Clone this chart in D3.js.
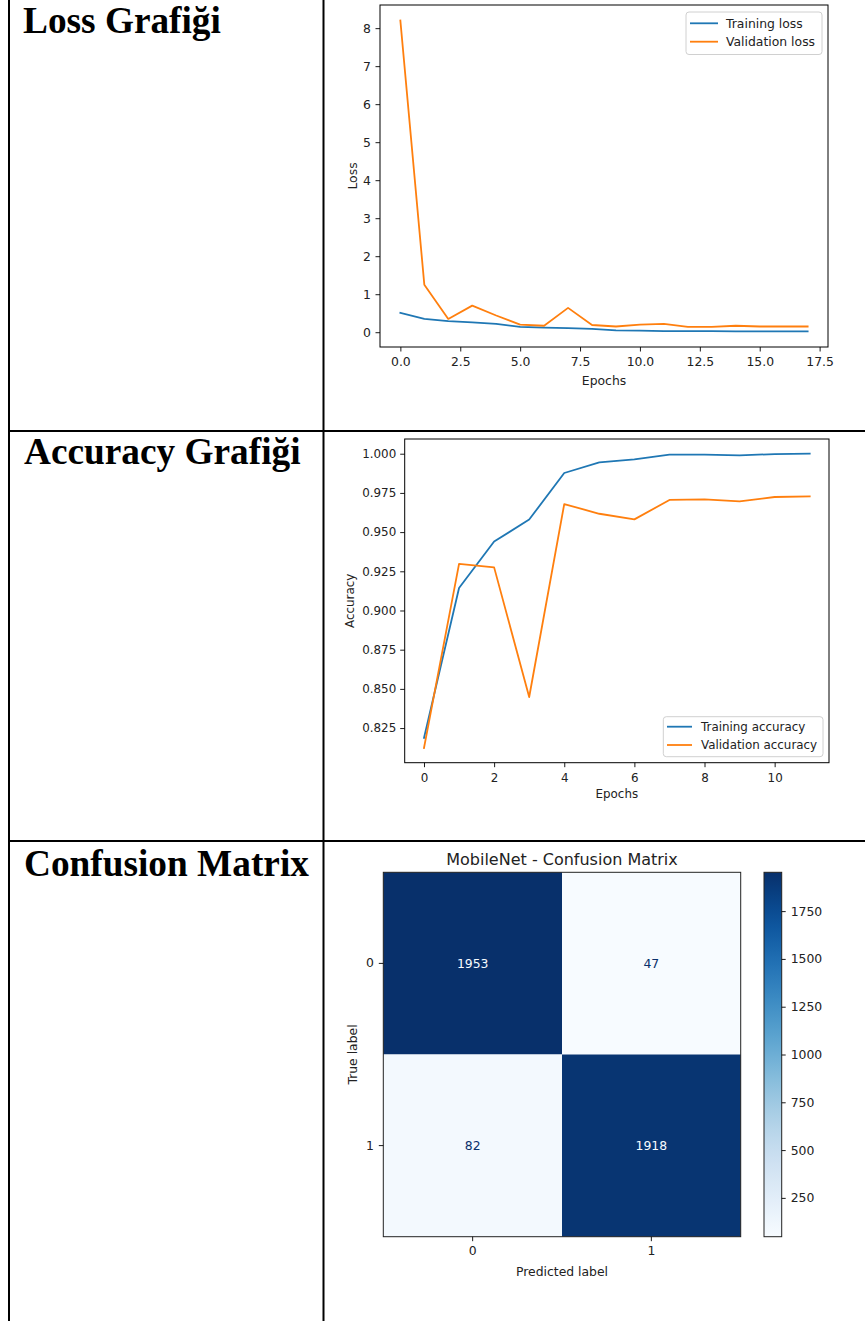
<!DOCTYPE html>
<html>
<head>
<meta charset="utf-8">
<script src="https://cdn.jsdelivr.net/npm/d3@7"></script>
<style>
  html, body { margin: 0; padding: 0; background: #fff; }
  svg { display: block; }
  .mpl text { font-family: "DejaVu Sans", sans-serif; fill: #222; }
  .rowlabel { font-family: "Liberation Serif", "Times New Roman", serif; font-weight: bold; font-size: 37.3px; fill: #000; }
</style>
</head>
<body>
<script>
// ---------- data ----------
const rowLabels = ["Loss Grafiği", "Accuracy Grafiği", "Confusion Matrix"];

const lossEpochs = d3.range(0, 18);
const trainingLoss = [0.51, 0.35, 0.29, 0.26, 0.22, 0.14, 0.12, 0.11, 0.09, 0.05, 0.04, 0.03, 0.03, 0.03, 0.02, 0.02, 0.02, 0.02];
const validationLoss = [8.20, 1.25, 0.35, 0.70, 0.44, 0.20, 0.17, 0.64, 0.19, 0.15, 0.20, 0.22, 0.14, 0.14, 0.17, 0.15, 0.15, 0.15];
const lossXTicks = [0, 2.5, 5, 7.5, 10, 12.5, 15, 17.5];
const lossYTicks = [0, 1, 2, 3, 4, 5, 6, 7, 8];

const accEpochs = d3.range(0, 12);
const trainingAcc = [0.8187, 0.9143, 0.9440, 0.9580, 0.9877, 0.9945, 0.9964, 0.9994, 0.9994, 0.9989, 0.9998, 1.0000];
const validationAcc = [0.8123, 0.9297, 0.9275, 0.8448, 0.9679, 0.9617, 0.9581, 0.9705, 0.9709, 0.9696, 0.9724, 0.9728];
const accXTicks = [0, 2, 4, 6, 8, 10];
const accYTicks = [0.825, 0.850, 0.875, 0.900, 0.925, 0.950, 0.975, 1.000];

const cmLabels = [0, 1];
const cmValues = [[1953, 47], [82, 1918]];
const cbTicks = [250, 500, 750, 1000, 1250, 1500, 1750];

const blue = "#1f77b4", orange = "#ff7f0e";

// ---------- page ----------
const W = 865, H = 1321;
const svg = d3.select("body").append("svg").attr("width", W).attr("height", H);
svg.append("rect").attr("width", W).attr("height", H).attr("fill", "#fff");

// table grid
const grid = svg.append("g").attr("stroke", "#000").attr("stroke-width", 2);
grid.append("line").attr("x1", 9).attr("x2", 9).attr("y1", 0).attr("y2", H);
grid.append("line").attr("x1", 323.5).attr("x2", 323.5).attr("y1", 0).attr("y2", H);
grid.append("line").attr("x1", 9).attr("x2", W).attr("y1", 431).attr("y2", 431);
grid.append("line").attr("x1", 9).attr("x2", W).attr("y1", 841).attr("y2", 841);

const labelPos = [[23, 33], [24, 464], [24, 876]];
rowLabels.forEach((t, i) => {
  svg.append("text").attr("class", "rowlabel").attr("x", labelPos[i][0]).attr("y", labelPos[i][1]).text(t);
});

function padDomain(vals) {
  const [mn, mx] = d3.extent(vals);
  const r = mx - mn;
  return [mn - 0.05 * r, mx + 0.05 * r];
}

function lineChart(opts) {
  const g = svg.append("g").attr("class", "mpl");
  const x = d3.scaleLinear().domain(padDomain(opts.xs)).range([opts.left, opts.right]);
  const y = d3.scaleLinear().domain(padDomain(opts.series[0].v.concat(opts.series[1].v))).range([opts.bottom, opts.top]);

  const xa = g.append("g").attr("transform", `translate(0,${opts.bottom})`)
    .call(d3.axisBottom(x).tickValues(opts.xTicks).tickFormat(opts.xFmt).tickSize(4.5).tickPadding(6));
  const ya = g.append("g").attr("transform", `translate(${opts.left},0)`)
    .call(d3.axisLeft(y).tickValues(opts.yTicks).tickFormat(opts.yFmt).tickSize(4.5).tickPadding(opts.yPad));
  [xa, ya].forEach(a => {
    a.select(".domain").remove();
    a.selectAll("line").attr("stroke", "#000").attr("stroke-width", 0.9);
    a.selectAll("text").attr("font-size", opts.fs + "px").attr("fill", "#222").attr("font-family", "DejaVu Sans");
  });

  const line = d3.line().x((d, i) => x(opts.xs[i])).y(d => y(d));
  opts.series.forEach(s => {
    g.append("path").datum(s.v).attr("d", line).attr("fill", "none")
      .attr("stroke", s.c).attr("stroke-width", 1.8).attr("stroke-linejoin", "round").attr("stroke-linecap", "square");
  });

  g.append("rect").attr("x", opts.left).attr("y", opts.top)
    .attr("width", opts.right - opts.left).attr("height", opts.bottom - opts.top)
    .attr("fill", "none").attr("stroke", "#000").attr("stroke-width", 1);

  g.append("text").attr("x", (opts.left + opts.right) / 2).attr("y", opts.xlabY)
    .attr("text-anchor", "middle").attr("font-size", opts.fs + "px").text("Epochs");
  g.append("text").attr("transform", `translate(${opts.ylabX},${(opts.top + opts.bottom) / 2}) rotate(-90)`)
    .attr("text-anchor", "middle").attr("dominant-baseline", "central").attr("font-size", opts.fs + "px").text(opts.ylab);

  // legend
  const L = opts.legend;
  g.append("rect").attr("x", L.x0).attr("y", L.y0).attr("width", L.x1 - L.x0).attr("height", L.y1 - L.y0)
    .attr("rx", 3).attr("fill", "#fff").attr("fill-opacity", 0.85).attr("stroke", "#d0d0d0").attr("stroke-width", 1);
  opts.series.forEach((s, i) => {
    const yy = L.rows[i];
    g.append("line").attr("x1", L.lx0).attr("x2", L.lx1).attr("y1", yy).attr("y2", yy)
      .attr("stroke", s.c).attr("stroke-width", 1.8);
    g.append("text").attr("x", L.tx).attr("y", yy).attr("dominant-baseline", "central")
      .attr("font-size", opts.fs + "px").text(s.name);
  });
}

lineChart({
  xs: lossEpochs,
  series: [{ v: trainingLoss, c: blue, name: "Training loss" }, { v: validationLoss, c: orange, name: "Validation loss" }],
  left: 380, right: 828, top: 5, bottom: 347,
  xTicks: lossXTicks, xFmt: d3.format(".1f"),
  yTicks: lossYTicks, yFmt: d3.format("d"), yPad: 4.5,
  fs: 12.4, xlabY: 384.5, ylab: "Loss", ylabX: 352,
  legend: { x0: 686, x1: 822, y0: 12, y1: 54.5, rows: [23.3, 41.7], lx0: 690, lx1: 718, tx: 726 }
});

lineChart({
  xs: accEpochs,
  series: [{ v: trainingAcc, c: blue, name: "Training accuracy" }, { v: validationAcc, c: orange, name: "Validation accuracy" }],
  left: 404.7, right: 829, top: 439, bottom: 762.7,
  xTicks: accXTicks, xFmt: d3.format("d"),
  yTicks: accYTicks, yFmt: d3.format(".3f"), yPad: 4,
  fs: 11.9, xlabY: 798, ylab: "Accuracy", ylabX: 350,
  legend: { x0: 663.3, x1: 823, y0: 716.7, y1: 756.7, rows: [726.7, 745], lx0: 667, lx1: 692, tx: 701 }
});

// ---------- confusion matrix ----------
const cm = svg.append("g").attr("class", "mpl");
const cmL = 383.3, cmR = 740.7, cmT = 872.3, cmB = 1236.7;
const xb = d3.scaleBand().domain(cmLabels).range([cmL, cmR]);
const yb = d3.scaleBand().domain(cmLabels).range([cmT, cmB]);
const flat = cmValues.flat();
const cExt = d3.extent(flat);
const color = d3.scaleSequential(d3.interpolateBlues).domain(cExt);
const thresh = (cExt[0] + cExt[1]) / 2;

cmValues.forEach((row, i) => row.forEach((v, j) => {
  cm.append("rect").attr("x", xb(j)).attr("y", yb(i)).attr("width", xb.bandwidth()).attr("height", yb.bandwidth())
    .attr("fill", color(v));
}));
cmValues.forEach((row, i) => row.forEach((v, j) => {
  cm.append("text").attr("x", xb(j) + xb.bandwidth() / 2).attr("y", yb(i) + yb.bandwidth() / 2)
    .attr("text-anchor", "middle").attr("dominant-baseline", "central").attr("font-size", "12.4px")
    .style("fill", v > thresh ? d3.interpolateBlues(0) : d3.interpolateBlues(1)).text(v);
}));
cm.append("rect").attr("x", cmL).attr("y", cmT).attr("width", cmR - cmL).attr("height", cmB - cmT)
  .attr("fill", "none").attr("stroke", "#222").attr("stroke-width", 1);

const cxa = cm.append("g").attr("transform", `translate(0,${cmB})`)
  .call(d3.axisBottom(xb).tickSize(4.5).tickPadding(5));
const cya = cm.append("g").attr("transform", `translate(${cmL},0)`)
  .call(d3.axisLeft(yb).tickSize(4.5).tickPadding(5));
[cxa, cya].forEach(a => {
  a.select(".domain").remove();
  a.selectAll("line").attr("stroke", "#000").attr("stroke-width", 0.9);
  a.selectAll("text").attr("font-size", "12.4px").attr("fill", "#222").attr("font-family", "DejaVu Sans");
});

cm.append("text").attr("x", (cmL + cmR) / 2).attr("y", 864.5).attr("text-anchor", "middle")
  .attr("font-size", "16px").text("MobileNet - Confusion Matrix");
cm.append("text").attr("x", (cmL + cmR) / 2).attr("y", 1276).attr("text-anchor", "middle")
  .attr("font-size", "12.4px").text("Predicted label");
cm.append("text").attr("transform", `translate(352,${(cmT + cmB) / 2}) rotate(-90)`)
  .attr("text-anchor", "middle").attr("dominant-baseline", "central").attr("font-size", "12.4px").text("True label");

// colorbar
const cbL = 764, cbR = 781.7;
const defs = svg.append("defs");
const grad = defs.append("linearGradient").attr("id", "cbgrad").attr("x1", 0).attr("x2", 0).attr("y1", 1).attr("y2", 0);
d3.range(0, 1.0001, 0.05).forEach(t => {
  grad.append("stop").attr("offset", t).attr("stop-color", d3.interpolateBlues(t));
});
cm.append("rect").attr("x", cbL).attr("y", cmT).attr("width", cbR - cbL).attr("height", cmB - cmT)
  .attr("fill", "url(#cbgrad)").attr("stroke", "#222").attr("stroke-width", 1);
const cbScale = d3.scaleLinear().domain(cExt).range([cmB, cmT]);
const cba = cm.append("g").attr("transform", `translate(${cbR},0)`)
  .call(d3.axisRight(cbScale).tickValues(cbTicks).tickFormat(d3.format("d")).tickSize(4).tickPadding(5));
cba.select(".domain").remove();
cba.selectAll("line").attr("stroke", "#000").attr("stroke-width", 0.9);
cba.selectAll("text").attr("font-size", "12.4px").attr("fill", "#222").attr("font-family", "DejaVu Sans");
</script>
</body>
</html>
